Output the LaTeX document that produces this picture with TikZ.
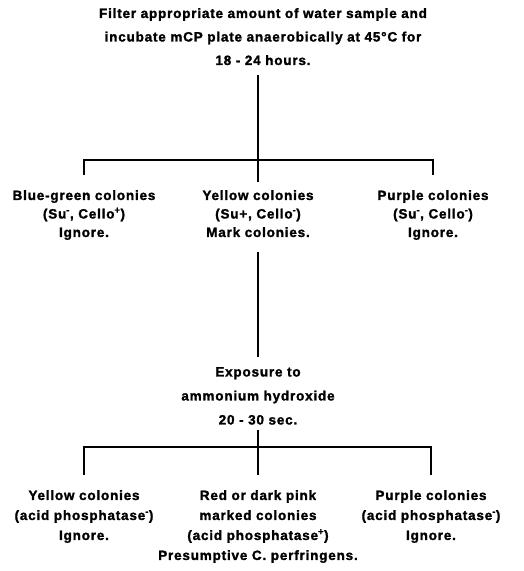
\documentclass[tikz,border=0pt]{standalone}
\usepackage{fontspec}
\setmainfont[LetterSpace=6, BoldFeatures={FakeBold=1.6}]{Liberation Sans}
\begin{document}
\begin{tikzpicture}[x=1pt,y=-1pt,
        flowtext/.style={font=\fontsize{13.5}{#1}\selectfont\bfseries, align=center, inner sep=0pt, anchor=north},
        flowtext/.default=20]
        \useasboundingbox (0,0) rectangle (524,571);

        % first step
        \node[flowtext=23.5] (filter) at (263,8) {Filter appropriate amount of water sample and\\
                incubate mCP plate anaerobically at 45\textdegree C for\\ 18 - 24 hours.};

        \node[flowtext=18.5] (bluegreen) at (84,190) {Blue-green colonies\\(Su\textsuperscript{-}, Cello\textsuperscript{+})\\Ignore.};
        \node[flowtext=18.5] (yellow) at (258,190) {Yellow colonies\\(Su+, Cello\textsuperscript{-})\\Mark colonies.};
        \node[flowtext=18.5] (purple) at (433,190) {Purple colonies\\(Su\textsuperscript{-}, Cello\textsuperscript{-})\\Ignore.};

        \coordinate (split1) at (258,160);
        \draw[line width=1.2pt] ([yshift=-10pt]filter.south -| yellow.north) -- ([yshift=8pt]yellow.north);
        \draw[line width=1.2pt] ([yshift=15pt]bluegreen.north) |- (split1) -| ([yshift=15pt]purple.north);

        % second step
        \node[flowtext=24] (exposure) at (258,367) {Exposure to\\ammonium hydroxide\\20 - 30 sec.};
        \draw[line width=1.2pt] ([yshift=-15pt]yellow.south) -- ([yshift=10pt]exposure.north);

        \node[flowtext] (yellowneg) at (84,490) {Yellow colonies\\(acid phosphatase\textsuperscript{-})\\Ignore.};
        \node[flowtext] (redpink) at (258,490) {Red or dark pink\\marked colonies\\(acid phosphatase\textsuperscript{+})\\Presumptive C. perfringens.};
        \node[flowtext] (purpleneg) at (431,490) {Purple colonies\\(acid phosphatase\textsuperscript{-})\\Ignore.};

        \coordinate (split2) at (258,447);
        \draw[line width=1.2pt] ([yshift=-5pt]exposure.south) -- ([yshift=15pt]redpink.north);
        \draw[line width=1.2pt] ([yshift=15pt]yellowneg.north) |- (split2) -| ([yshift=15pt]purpleneg.north);

\end{tikzpicture}
\end{document}
